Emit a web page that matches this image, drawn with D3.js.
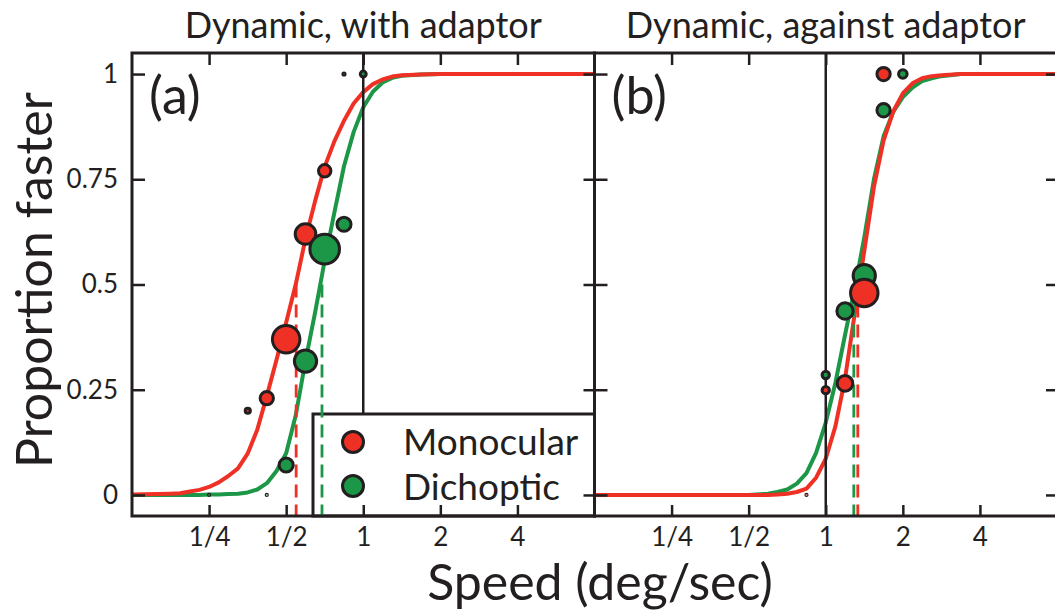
<html>
<head>
<meta charset="utf-8">
<title>Proportion faster vs speed</title>
<script src="https://cdn.jsdelivr.net/npm/d3@7"></script>
<style>
  body { margin: 0; background: #fff; }
  text { font-family: Lato, "Open Sans", sans-serif; fill: #231f20; }
</style>
</head>
<body>
<div id="chart"></div>
<script>

// ---- data ----
var titles = ["Dynamic, with adaptor", "Dynamic, against adaptor"];
var panelTags = ["(a)", "(b)"];
var seriesNames = ["Monocular", "Dichoptic"];

var speedTicks = [0.25, 0.5, 1, 2, 4];
var speedTickLabels = ["1/4", "1/2", "1", "2", "4"];
var propTicks = [0, 0.25, 0.5, 0.75, 1];
var propTickLabels = ["0", "0.25", "0.5", "0.75", "1"];

// fitted curves, sampled in octaves re 1 deg/sec
var octA = [-3, -2.5, -2.375, -2.25, -2.125, -2, -1.875, -1.75, -1.625, -1.5, -1.375, -1.25, -1.125, -1,
            -0.875, -0.75, -0.625, -0.5, -0.375, -0.25, -0.125, 0, 0.125, 0.25, 0.375, 0.5, 0.75, 1, 3];
var fitMonoA = [0.001, 0.003, 0.004, 0.008, 0.012, 0.019, 0.030, 0.045, 0.063, 0.098, 0.155, 0.236, 0.321, 0.410,
                0.501, 0.608, 0.698, 0.780, 0.840, 0.889, 0.930, 0.957, 0.976, 0.987, 0.994, 0.997, 0.999, 1, 1];
var fitDichA = [0, 0, 0, 0, 0, 0.001, 0.001, 0.002, 0.003, 0.006, 0.013, 0.028, 0.057, 0.099,
                0.190, 0.318, 0.433, 0.557, 0.671, 0.781, 0.862, 0.921, 0.958, 0.980, 0.991, 0.996, 0.999, 1, 1];

var octB = [-3, -1, -0.75, -0.625, -0.5, -0.375, -0.25, -0.125, 0, 0.125, 0.25, 0.375, 0.5, 0.625, 0.75,
            0.875, 1, 1.125, 1.25, 1.375, 1.5, 1.75, 3];
var fitMonoB = [0, 0, 0, 0.001, 0.003, 0.007, 0.015, 0.041, 0.086, 0.163, 0.276, 0.430, 0.580, 0.732, 0.842,
                0.911, 0.954, 0.978, 0.990, 0.995, 0.997, 1, 1];
var fitDichB = [0, 0, 0.003, 0.007, 0.013, 0.027, 0.052, 0.100, 0.172, 0.266, 0.380, 0.490, 0.612, 0.750, 0.852,
                0.910, 0.945, 0.968, 0.983, 0.990, 0.995, 1, 1];

// points of subjective equality (deg/sec)
var pseA = [0.547, 0.69];
var pseB = [1.334, 1.287];

// observed proportions, with number of trials
var speedMonoA = [0.354, 0.42, 0.5, 0.595, 0.707, 0.841];
var propMonoA  = [0.20, 0.23, 0.37, 0.62, 0.77, 1.0];
var trialsMonoA = [2.5, 10, 35, 21, 9, 1];

var speedDichA = [0.25, 0.42, 0.5, 0.595, 0.707, 0.841, 1];
var propDichA  = [0, 0, 0.071, 0.318, 0.584, 0.643, 1.0];
var trialsDichA = [0.35, 0.35, 11, 24, 40, 11, 3];

var speedMonoB = [0.841, 1, 1.189, 1.414, 1.682];
var propMonoB  = [0, 0.249, 0.265, 0.48, 1.0];
var trialsMonoB = [0.6, 4, 13, 35, 10];

var speedDichB = [1, 1.189, 1.414, 1.682, 2];
var propDichB  = [0.285, 0.437, 0.521, 0.914, 1.0];
var trialsDichB = [4, 14, 24, 10, 5];

// ---- drawing ----
var colors = ["#ee3124", "#1b9747"];
var ink = "#231f20";

function zip(xs, ys, ns) {
    return xs.map(function(x, i) { return { x: x, y: ys[i], n: ns ? ns[i] : 0 }; });
}

var panels = [
    { title: titles[0], tag: panelTags[0], left: 132, oct: octA,
      fits: [fitMonoA, fitDichA], pse: pseA,
      pts: [zip(speedMonoA, propMonoA, trialsMonoA), zip(speedDichA, propDichA, trialsDichA)],
      order: [0, 1] },
    { title: titles[1], tag: panelTags[1], left: 594.5, oct: octB,
      fits: [fitMonoB, fitDichB], pse: pseB,
      pts: [zip(speedMonoB, propMonoB, trialsMonoB), zip(speedDichB, propDichB, trialsDichB)],
      order: [1, 0] }
];

var W = 1055, H = 612;
var plotTop = 53, plotBottom = 516, panelW = 462.5;

var svg = d3.select("#chart").append("svg")
    .attr("width", W).attr("height", H);
svg.append("rect").attr("width", W).attr("height", H).attr("fill", "#fff");

var y = d3.scaleLinear().domain([-0.05, 1.05]).range([plotBottom, plotTop]);
var rScale = d3.scaleSqrt().domain([0, 40]).range([0, 16.3]);
var strokeW = 3;

panels.forEach(function(p, pi) {
    var x = d3.scaleLog().base(2).domain([1 / 8, 8]).range([p.left, p.left + panelW]);
    var g = svg.append("g");

    // fitted curves (dichoptic first, monocular on top)
    [1, 0].forEach(function(s) {
        var line = d3.line()
            .x(function(d) { return x(Math.pow(2, d[0])); })
            .y(function(d) { return y(d[1]); });
        g.append("path")
            .datum(p.oct.map(function(o, i) { return [o, p.fits[s][i]]; }))
            .attr("d", line)
            .attr("fill", "none")
            .attr("stroke", colors[s])
            .attr("stroke-width", 4)
            .attr("stroke-linejoin", "round");
    });

    // line at 1 deg/sec
    var legendTop = 414;
    g.append("line")
        .attr("x1", x(1)).attr("x2", x(1))
        .attr("y1", plotTop).attr("y2", pi === 0 ? legendTop : plotBottom)
        .attr("stroke", ink).attr("stroke-width", 2.5);

    // legend sits in panel (a)
    if (pi === 0) {
        var lg = g.append("g");
        lg.append("rect")
            .attr("x", 313).attr("y", legendTop)
            .attr("width", x(8) - 313).attr("height", plotBottom - legendTop)
            .attr("fill", "#fff").attr("stroke", ink).attr("stroke-width", 3);
        seriesNames.forEach(function(name, i) {
            lg.append("circle")
                .attr("cx", 353).attr("cy", 442 + i * 44)
                .attr("r", 10.5)
                .attr("fill", colors[i]).attr("stroke", ink).attr("stroke-width", strokeW);
            lg.append("text")
                .attr("x", 403).attr("y", 455 + i * 45)
                .attr("font-size", 37)
                .text(name);
        });
    }

    // PSE dashed lines
    g.selectAll(".pse")
        .data(p.pse)
        .enter().append("line")
        .attr("x1", function(d) { return x(d); })
        .attr("x2", function(d) { return x(d); })
        .attr("y1", y(0.5)).attr("y2", plotBottom)
        .attr("stroke", function(d, i) { return colors[i]; })
        .attr("stroke-width", 2.8)
        .attr("stroke-dasharray", "13,7");

    // data points
    p.order.forEach(function(s) {
        g.selectAll(".pt" + s)
            .data(p.pts[s])
            .enter().append("circle")
            .attr("cx", function(d) { return x(d.x); })
            .attr("cy", function(d) { return y(d.y); })
            .attr("r", function(d) { return Math.max(rScale(d.n) - strokeW / 2, 0.6); })
            .attr("fill", colors[s])
            .attr("stroke", ink)
            .attr("stroke-width", strokeW);
    });

    // axes, ticks pointing inward
    var bAxis = d3.axisBottom(x).tickValues(speedTicks)
        .tickFormat(function(d, i) { return speedTickLabels[i]; })
        .tickSize(-11).tickPadding(12);
    var tAxis = d3.axisTop(x).tickValues(speedTicks).tickFormat("").tickSize(-12);
    var lAxis = d3.axisLeft(y).tickValues(propTicks)
        .tickFormat(function(d, i) { return pi === 0 ? propTickLabels[i] : ""; })
        .tickSize(-13).tickPadding(14);
    var rAxis = d3.axisRight(y).tickValues(propTicks).tickFormat("").tickSize(-11);

    [[bAxis, "translate(0," + plotBottom + ")"],
     [tAxis, "translate(0," + plotTop + ")"],
     [lAxis, "translate(" + p.left + ",0)"],
     [rAxis, "translate(" + (p.left + panelW) + ",0)"]].forEach(function(a) {
        var ax = g.append("g").attr("transform", a[1]).call(a[0]);
        ax.select(".domain").remove();
        ax.selectAll(".tick line").attr("stroke", ink).attr("stroke-width", 2.5);
        ax.selectAll(".tick text")
            .attr("font-family", "Lato, 'Open Sans', sans-serif")
            .attr("font-size", 26).attr("fill", ink);
    });

    // frame
    g.append("rect")
        .attr("x", p.left).attr("y", plotTop)
        .attr("width", panelW).attr("height", plotBottom - plotTop)
        .attr("fill", "none").attr("stroke", ink).attr("stroke-width", 3);

    // title and tag
    g.append("text")
        .attr("x", p.left + panelW / 2).attr("y", 38)
        .attr("text-anchor", "middle").attr("font-size", 36)
        .text(p.title);
    g.append("text")
        .attr("x", p.left + 17).attr("y", 114)
        .attr("font-size", 52)
        .text(p.tag);
});

svg.append("text")
    .attr("x", 600).attr("y", 600)
    .attr("text-anchor", "middle").attr("font-size", 50)
    .text("Speed (deg/sec)");

svg.append("text")
    .attr("transform", "translate(52,280) rotate(-90)")
    .attr("text-anchor", "middle").attr("font-size", 50)
    .text("Proportion faster");

</script>
</body>
</html>
